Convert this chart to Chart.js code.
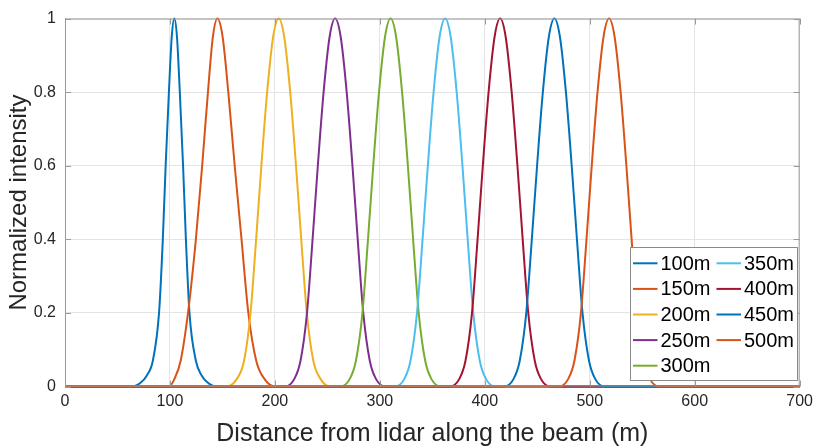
<!DOCTYPE html>
<html>
<head>
<meta charset="utf-8">
<script src="https://cdn.jsdelivr.net/npm/chart.js@4.4.1/dist/chart.umd.min.js"></script>
<style>
  html, body { margin: 0; padding: 0; background: #fff; }
  #wrap { width: 818px; height: 446px; position: relative; }
</style>
</head>
<body>
<div id="wrap"><canvas id="c" width="818" height="446"></canvas></div>
<script>
// Range gate labels
const rangeLabels = ['100m', '150m', '200m', '250m', '300m', '350m', '400m', '450m', '500m'];

// Normalized intensity profiles: [distance (m), intensity]
const gate100 = [[0,0],[64,0],[72,0.01],[78,0.03],[83.7,0.07],[89.6,0.2],[93.2,0.4],[95.9,0.6],[99,0.8],[101.7,0.95],[104.2,1],[106.7,0.95],[109.4,0.8],[112.5,0.6],[115.2,0.4],[118.6,0.2],[124.7,0.07],[130.2,0.03],[136.2,0.01],[144,0],[700,0]];
const gate150 = [[0,0],[99.2,0],[104.2,0.02],[110.2,0.07],[117.2,0.2],[124.7,0.4],[130.7,0.6],[136.2,0.8],[140.9,0.95],[145.2,1],[150.2,0.95],[155.6,0.8],[161.7,0.6],[168.2,0.4],[174.7,0.2],[182.2,0.07],[190.2,0.02],[200.2,0],[700,0]];
const gate200 = [[0,0],[153.6,0],[163.6,0.02],[170.6,0.07],[176.8,0.2],[182.1,0.4],[187.1,0.6],[192.6,0.8],[198.3,0.95],[203.6,1],[208.9,0.95],[214.6,0.8],[220.1,0.6],[225.1,0.4],[230.4,0.2],[236.6,0.07],[243.6,0.02],[252.6,0],[700,0]];
const gate250 = [[0,0],[209.4,0],[218.4,0.02],[224.4,0.07],[230.6,0.2],[235.9,0.4],[240.9,0.6],[246.4,0.8],[252.1,0.95],[257.4,1],[262.7,0.95],[268.4,0.8],[273.9,0.6],[278.9,0.4],[284.2,0.2],[290.4,0.07],[296.4,0.02],[305.4,0],[700,0]];
const gate300 = [[0,0],[262.2,0],[271.2,0.02],[277.2,0.07],[283.4,0.2],[288.7,0.4],[293.7,0.6],[299.2,0.8],[304.9,0.95],[310.2,1],[315.5,0.95],[321.2,0.8],[326.7,0.6],[331.7,0.4],[337.0,0.2],[343.2,0.07],[349.2,0.02],[358.2,0],[700,0]];
const gate350 = [[0,0],[314.2,0],[323.2,0.02],[329.2,0.07],[335.4,0.2],[340.7,0.4],[345.7,0.6],[351.2,0.8],[356.9,0.95],[362.2,1],[367.5,0.95],[373.2,0.8],[378.7,0.6],[383.7,0.4],[389.0,0.2],[395.2,0.07],[401.2,0.02],[410.2,0],[700,0]];
const gate400 = [[0,0],[366.6,0],[375.6,0.02],[381.6,0.07],[387.8,0.2],[393.1,0.4],[398.1,0.6],[403.6,0.8],[409.3,0.95],[414.6,1],[419.9,0.95],[425.6,0.8],[431.1,0.6],[436.1,0.4],[441.4,0.2],[447.6,0.07],[453.6,0.02],[462.6,0],[700,0]];
const gate450 = [[0,0],[418.3,0],[427.3,0.02],[433.3,0.07],[439.5,0.2],[444.8,0.4],[449.8,0.6],[455.3,0.8],[461.0,0.95],[466.3,1],[471.6,0.95],[477.3,0.8],[482.8,0.6],[487.8,0.4],[493.1,0.2],[499.3,0.07],[505.3,0.02],[514.3,0],[700,0]];
const gate500 = [[0,0],[470.4,0],[479.4,0.02],[485.4,0.07],[491.6,0.2],[496.9,0.4],[501.9,0.6],[507.4,0.8],[513.1,0.95],[518.4,1],[523.7,0.95],[529.4,0.8],[534.9,0.6],[539.9,0.4],[545.2,0.2],[551.4,0.07],[557.4,0.02],[566.4,0],[700,0]];

// Axis tick values
const distanceTicks = [0, 100, 200, 300, 400, 500, 600, 700];
const intensityTicks = [0, 0.2, 0.4, 0.6, 0.8, 1];

const profiles = [gate100, gate150, gate200, gate250, gate300, gate350, gate400, gate450, gate500];
const lineColors = ['#0072BD', '#D95319', '#EDB120', '#7E2F8E', '#77AC30', '#4DBEEE', '#A2142F', '#0072BD', '#D95319'];

const FONT = '"Liberation Sans", Arial, Helvetica, sans-serif';
const AXIS_GREY = '#9a9a9a';

const datasets = profiles.map((p, i) => ({
  label: rangeLabels[i],
  data: p.map(([x, y]) => ({ x, y })),
  borderColor: lineColors[i],
  backgroundColor: lineColors[i],
  borderWidth: 2,
  pointRadius: 0,
  fill: false,
  cubicInterpolationMode: 'monotone',
  clip: 4,
  order: profiles.length - i   // later ranges drawn over earlier ones
}));

// Box on top/right plus inward tick marks on all four sides
const axesBox = {
  id: 'axesBox',
  afterDatasetsDraw(chart) {
    const { ctx, chartArea: a, scales: { x, y } } = chart;
    ctx.save();
    ctx.strokeStyle = AXIS_GREY;
    ctx.lineWidth = 1;
    ctx.beginPath();
    ctx.moveTo(a.left, a.top + 0.5); ctx.lineTo(a.right, a.top + 0.5);
    ctx.moveTo(a.right - 0.5, a.top); ctx.lineTo(a.right - 0.5, a.bottom);
    ctx.moveTo(a.left + 0.5, a.top); ctx.lineTo(a.left + 0.5, a.bottom);
    ctx.moveTo(a.left, a.bottom - 0.5); ctx.lineTo(a.right, a.bottom - 0.5);
    const tl = 6;
    distanceTicks.forEach(v => {
      const px = Math.round(x.getPixelForValue(v)) + 0.5;
      ctx.moveTo(px, a.bottom); ctx.lineTo(px, a.bottom - tl);
      ctx.moveTo(px, a.top); ctx.lineTo(px, a.top + tl);
    });
    intensityTicks.forEach(v => {
      const py = Math.round(y.getPixelForValue(v)) + 0.5;
      ctx.moveTo(a.left, py); ctx.lineTo(a.left + tl, py);
      ctx.moveTo(a.right, py); ctx.lineTo(a.right - tl, py);
    });
    ctx.stroke();
    ctx.restore();
  }
};

// Two-column legend inside the plot, filled column by column
const boxLegend = {
  id: 'boxLegend',
  afterDraw(chart) {
    const { ctx } = chart;
    const ds = chart.data.datasets;
    const box = { left: 630, top: 247, width: 167, height: 133 };
    const rows = 5, rowGap = 25.6, firstRow = 263.3;
    const cols = [{ lineX: 633, textX: 660.5 }, { lineX: 716.5, textX: 744 }];
    ctx.save();
    ctx.fillStyle = '#ffffff';
    ctx.fillRect(box.left, box.top, box.width, box.height);
    ctx.strokeStyle = '#8a8a8a';
    ctx.lineWidth = 1;
    ctx.strokeRect(box.left + 0.5, box.top + 0.5, box.width, box.height);
    ctx.font = '20px ' + FONT;
    ctx.textBaseline = 'middle';
    ctx.textAlign = 'left';
    ds.forEach((d, i) => {
      const c = cols[Math.floor(i / rows)];
      const yy = firstRow + (i % rows) * rowGap;
      ctx.strokeStyle = d.borderColor;
      ctx.lineWidth = 2;
      ctx.beginPath();
      ctx.moveTo(c.lineX, yy); ctx.lineTo(c.lineX + 24.5, yy);
      ctx.stroke();
      ctx.fillStyle = '#000000';
      ctx.fillText(d.label, c.textX, yy + 1);
    });
    ctx.restore();
  }
};

new Chart(document.getElementById('c'), {
  type: 'line',
  data: { datasets },
  plugins: [axesBox, boxLegend],
  options: {
    responsive: false,
    animation: false,
    events: [],
    layout: { padding: { top: 14, right: 14, left: 0, bottom: 0 } },
    plugins: { legend: { display: false }, tooltip: { enabled: false } },
    scales: {
      x: {
        type: 'linear',
        min: 0, max: 700,
        afterBuildTicks: s => { s.ticks = distanceTicks.map(v => ({ value: v })); },
        afterFit: s => { s.height = 59.5; },
        ticks: { font: { family: FONT, size: 16 }, color: '#262626', padding: 5, maxRotation: 0, autoSkip: false },
        grid: { color: '#e4e4e4', drawTicks: false },
        border: { color: AXIS_GREY },
        title: { display: true, text: 'Distance from lidar along the beam (m)', font: { family: FONT, size: 25 }, color: '#262626', padding: { top: 0, bottom: -3 } }
      },
      y: {
        type: 'linear',
        min: 0, max: 1,
        afterBuildTicks: s => { s.ticks = intensityTicks.map(v => ({ value: v })); },
        afterFit: s => { s.width = 65; },
        ticks: { font: { family: FONT, size: 16 }, color: '#262626', padding: 9, autoSkip: false,
                 callback: v => String(Math.round(v * 10) / 10) },
        grid: { color: '#e4e4e4', drawTicks: false },
        border: { color: AXIS_GREY },
        title: { display: true, text: 'Normalized intensity', font: { family: FONT, size: 24 }, color: '#262626', padding: { top: 5, bottom: 0 } }
      }
    }
  }
});
</script>
</body>
</html>
